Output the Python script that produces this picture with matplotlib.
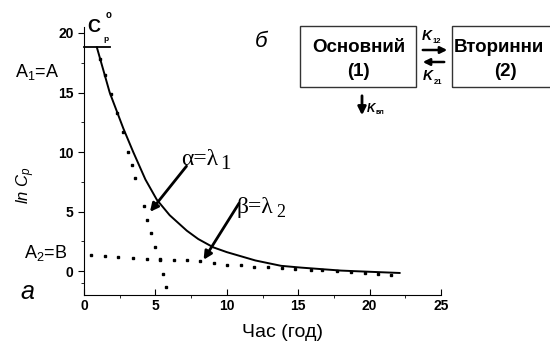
import matplotlib
matplotlib.use('Agg')
import matplotlib.pyplot as plt
from matplotlib.patches import Rectangle, FancyArrowPatch

# Дані
t_fit = [0.9, 1.8, 2.75, 3.45, 4.3, 5.1, 6.0, 7.2, 8.0, 9.06, 10.0, 12.0, 13.8, 15.2, 18.0, 20.0, 22.1]
lnc_fit = [18.8, 15.0, 12.0, 10.0, 7.7, 6.0, 4.7, 3.4, 2.7, 2.0, 1.6, 0.9, 0.45, 0.3, 0.05, -0.05, -0.15]

t_alpha = [1.1, 1.5, 1.9, 2.3, 2.7, 3.1, 3.35, 3.58, 4.17, 4.4, 4.7, 4.99, 5.29, 5.5, 5.76]
lnc_alpha = [17.8, 16.5, 14.9, 13.3, 11.7, 10.0, 8.9, 7.8, 5.5, 4.3, 3.2, 2.0, 1.0, -0.2, -1.35]

t_beta = [0.47, 1.48, 2.4, 3.4, 4.4, 5.29, 6.27, 7.2, 8.15, 9.1, 10.0, 10.96, 11.9,
          12.9, 13.9, 14.8, 15.9, 16.7, 17.7, 18.7, 19.65, 20.6, 21.5]
lnc_beta = [1.4, 1.3, 1.15, 1.1, 1.04, 0.95, 0.96, 0.9, 0.84, 0.7, 0.56, 0.48, 0.35,
            0.35, 0.3, 0.22, 0.06, 0.1, 0.0, -0.1, -0.15, -0.2, -0.3]

x_ticks = [0, 5, 10, 15, 20, 25]
y_ticks = [0, 5, 10, 15, 20]

plt.rcParams['font.family'] = ['Liberation Sans', 'DejaVu Sans']
plt.rcParams['mathtext.fontset'] = 'custom'
plt.rcParams['mathtext.rm'] = 'Liberation Sans'
plt.rcParams['mathtext.it'] = 'Liberation Sans:italic'
plt.rcParams['mathtext.bf'] = 'Liberation Sans:bold'

W, H = 550, 343
fig = plt.figure(figsize=(5.5, 3.43), dpi=100)


def P(x, y):
    # пікселі (від верхнього лівого кута) -> частки фігури
    return x / W, 1 - y / H


ax = fig.add_axes([84 / W, 1 - 295 / H, (441 - 84) / W, (295 - 33) / H])
ax.set_xlim(0, 25)
ax.set_ylim(-2, 20)
ax.spines['top'].set_visible(False)
ax.spines['right'].set_visible(False)
ax.spines['left'].set_bounds(-2, 20.5)
ax.set_xticks(x_ticks)
ax.set_yticks(y_ticks)
ax.set_xticks([2.5, 7.5, 12.5, 17.5, 22.5], minor=True)
ax.set_yticks([-1, 2.5, 7.5, 12.5, 17.5], minor=True)
ax.tick_params(axis='x', direction='in', length=4, labelsize=10, pad=3)
ax.tick_params(axis='y', direction='out', length=4, labelsize=10)
ax.tick_params(which='minor', length=2)
for lab in ax.get_xticklabels() + ax.get_yticklabels():
    lab.set_fontweight('bold')

# Криві
ax.plot(t_fit, lnc_fit, color='black', lw=1.4)
ax.plot(t_alpha, lnc_alpha, ls='none', marker='s', ms=1.8, color='black')
ax.plot(t_beta, lnc_beta, ls='none', marker='s', ms=1.8, color='black')
ax.plot([0, 1.8], [18.8, 18.8], color='black', lw=1.3, clip_on=False)

ax.set_xlabel('Час (год)', fontsize=14)
ax.xaxis.set_label_coords((282 - 84) / 357, -0.11)

# Стрілки до нахилів
ax.annotate('', xy=(4.5, 4.8), xytext=(7.3, 9.0),
            arrowprops=dict(arrowstyle='-|>', lw=2, color='black', mutation_scale=12))
ax.annotate('', xy=(8.27, 0.76), xytext=(10.96, 5.9),
            arrowprops=dict(arrowstyle='-|>', lw=2, color='black', mutation_scale=12))

# Підписи
fig.text(*P(181, 165), 'α=λ', family='Liberation Serif', fontsize=17)
fig.text(*P(220, 169), '1', family='Liberation Serif', fontsize=15)
fig.text(*P(237, 213), 'β=λ', family='Liberation Serif', fontsize=17)
fig.text(*P(276, 217), '2', family='Liberation Serif', fontsize=13)

fig.text(*P(87, 32), 'C', fontsize=13, fontweight='bold')
fig.text(*P(106, 18), 'o', fontsize=7, fontweight='bold')
fig.text(*P(103, 41), 'p', fontsize=6, fontweight='bold')

fig.text(*P(15, 77), r'A$_1$=A', fontsize=13)
fig.text(*P(24, 258), r'A$_2$=B', fontsize=13)
fig.text(*P(26, 185), r'$ln\ C_p$', fontsize=12, rotation=90, ha='center', va='center')
fig.text(*P(20, 299), 'а', fontsize=18, style='italic')
fig.text(*P(255, 47), 'б', fontsize=16, style='italic')

# Схема двокамерної моделі
fig.add_artist(Rectangle(P(300, 87), 116 / W, 61 / H, fill=False, lw=1, ec='#333333'))
fig.add_artist(Rectangle(P(452, 87), 110 / W, 61 / H, fill=False, lw=1, ec='#333333'))
fig.text(*P(359, 47), 'Основний', fontsize=13.5, fontweight='bold', ha='center', va='center')
fig.text(*P(358, 72), '(1)', fontsize=13.5, fontweight='bold', ha='center', va='center')
fig.text(*P(454, 47), 'Вторинни', fontsize=13.5, fontweight='bold', ha='left', va='center')
fig.text(*P(505, 72), '(2)', fontsize=13.5, fontweight='bold', ha='center', va='center')

fig.add_artist(FancyArrowPatch(P(420, 50), P(450, 50), arrowstyle='-|>', lw=1.8,
                               mutation_scale=10, color='black', transform=fig.transFigure))
fig.add_artist(FancyArrowPatch(P(447, 62), P(420, 62), arrowstyle='-|>', lw=1.8,
                               mutation_scale=10, color='black', transform=fig.transFigure))
fig.add_artist(FancyArrowPatch(P(362, 93), P(362, 118), arrowstyle='-|>', lw=2,
                               mutation_scale=12, color='black', transform=fig.transFigure))
fig.text(*P(422, 40), 'K', fontsize=10, fontweight='bold', style='italic')
fig.text(*P(433, 43), '12', fontsize=5.5, fontweight='bold')
fig.text(*P(423, 80), 'K', fontsize=10, fontweight='bold', style='italic')
fig.text(*P(434, 84), '21', fontsize=5.5, fontweight='bold')
fig.text(*P(367, 112), 'K', fontsize=8.5, fontweight='bold', style='italic')
fig.text(*P(375, 114), 'вл', fontsize=5, fontweight='bold')

plt.savefig('out.png', dpi=100)
